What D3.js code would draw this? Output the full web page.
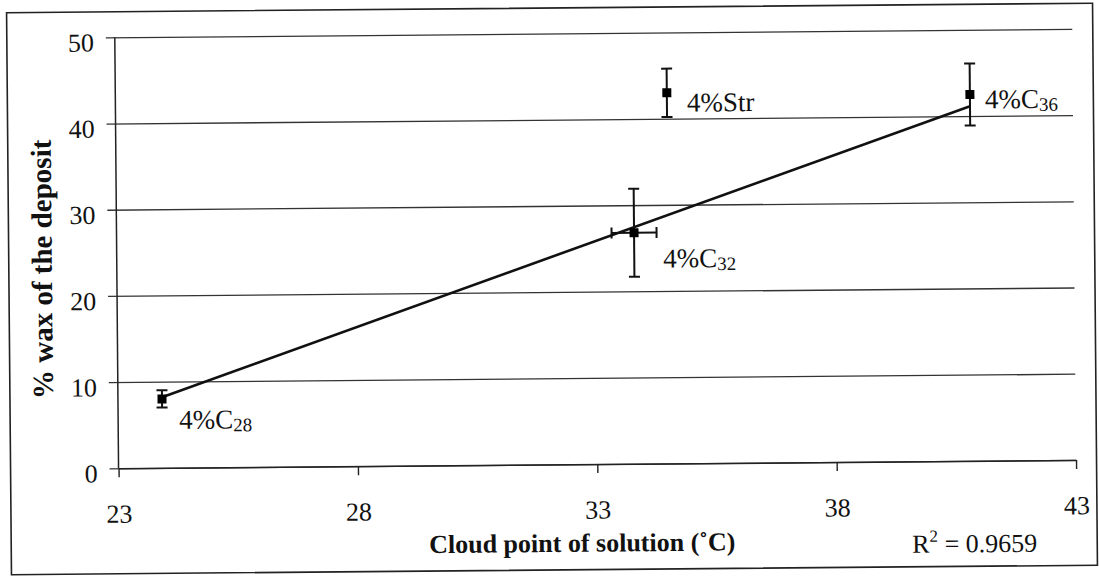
<!DOCTYPE html>
<html>
<head>
<meta charset="utf-8">
<script src="https://cdn.jsdelivr.net/npm/d3@7"></script>
<style>
  body { margin: 0; background: #fff; }
  svg { display: block; }
</style>
</head>
<body>
<div id="chart"></div>
<script>
// Values
const samples = ["C28", "Str", "C32", "C36"];
const labelText = ["4%C", "4%Str", "4%C", "4%C"];
const labelSub = ["28", "", "32", "36"];
const cloudPoint = [23.92, 34.52, 33.81, 40.85];
const cloudError = [0, 0, 0.47, 0];
const waxPercent = [8.0, 43.0, 26.8, 42.5];
const waxError = [1.0, 2.8, 5.1, 3.6];
const inTrend = [true, false, true, true];
const xTicks = [23, 28, 33, 38, 43];
const yTicks = [0, 10, 20, 30, 40, 50];
// linear trendline as drawn in the figure
const trendSlope = 1.946;
const trendIntercept = -38.35;
const rSquared = "0.9659";

const width = 1099, height = 576;
const font = "'Liberation Serif', 'Times New Roman', serif";

// label placement relative to its point (px)
const labelOffset = { C28: [17, 30], Str: [20, 19], C32: [29, 35], C36: [15, 14] };

const svg = d3.select("#chart").append("svg")
  .attr("width", width)
  .attr("height", height)
  .style("font-family", font);

// the scan is tilted by about half a degree
const g = svg.append("g").attr("transform", "rotate(-0.5, 549, 288)");

g.append("rect")
  .attr("x", 9).attr("y", 8)
  .attr("width", 1086).attr("height", 562)
  .attr("fill", "#fff")
  .attr("stroke", "#222")
  .attr("stroke-width", 1.6);

const x = d3.scaleLinear().domain([23, 43]).range([117, 1074.5]);
const y = d3.scaleLinear().domain([0, 50]).range([464.5, 33.5]);
const plotW = x.range()[1] - x.range()[0];

// horizontal gridlines + left tick labels
const yAxis = g.append("g")
  .attr("transform", `translate(${x(23)},0)`)
  .call(d3.axisLeft(y).tickValues(yTicks).tickSize(-plotW).tickSizeOuter(0).tickPadding(21));
yAxis.select(".domain").remove();
yAxis.selectAll(".tick line")
  .attr("x1", -9)
  .attr("stroke", "#333")
  .attr("stroke-width", 1.3);
yAxis.selectAll(".tick text")
  .attr("dy", "0.52em")
  .attr("fill", "#111")
  .style("font-size", "26px")
  .style("font-family", font);

// bottom axis
const xAxis = g.append("g")
  .attr("transform", `translate(0,${y(0)})`)
  .call(d3.axisBottom(x).tickValues(xTicks).tickSize(9).tickSizeOuter(0).tickPadding(27));
xAxis.select(".domain").attr("stroke", "#222").attr("stroke-width", 1.5);
xAxis.selectAll(".tick line").attr("stroke", "#222").attr("stroke-width", 1.4);
xAxis.selectAll(".tick text")
  .attr("fill", "#111")
  .style("font-size", "26px")
  .style("font-family", font);

// vertical axis line
g.append("line")
  .attr("x1", x(23)).attr("x2", x(23))
  .attr("y1", y(0)).attr("y2", y(50))
  .attr("stroke", "#222")
  .attr("stroke-width", 1.5);

// trendline over the x range of the fitted points
const trendX = d3.extent(cloudPoint.filter((d, i) => inTrend[i]));
g.append("path")
  .datum(trendX)
  .attr("fill", "none")
  .attr("stroke", "#111")
  .attr("stroke-width", 2.6)
  .attr("d", d3.line().x((d) => x(d)).y((d) => y(trendSlope * d + trendIntercept)));

// points with error bars
const pts = samples.map((s, i) => ({
  id: s,
  cx: cloudPoint[i], ex: cloudError[i],
  cy: waxPercent[i], ey: waxError[i],
  text: labelText[i], sub: labelSub[i]
}));

const cap = 5.5;
const pt = g.selectAll(".pt")
  .data(pts)
  .join("g")
  .attr("class", "pt")
  .attr("stroke", "#111")
  .attr("stroke-width", 2);

pt.append("line")
  .attr("x1", (d) => x(d.cx)).attr("x2", (d) => x(d.cx))
  .attr("y1", (d) => y(d.cy - d.ey)).attr("y2", (d) => y(d.cy + d.ey));
pt.append("line")
  .attr("x1", (d) => x(d.cx) - cap).attr("x2", (d) => x(d.cx) + cap)
  .attr("y1", (d) => y(d.cy + d.ey)).attr("y2", (d) => y(d.cy + d.ey));
pt.append("line")
  .attr("x1", (d) => x(d.cx) - cap).attr("x2", (d) => x(d.cx) + cap)
  .attr("y1", (d) => y(d.cy - d.ey)).attr("y2", (d) => y(d.cy - d.ey));

// horizontal error bars, only where there is one
const hx = pt.filter((d) => d.ex > 0);
hx.append("line")
  .attr("x1", (d) => x(d.cx - d.ex)).attr("x2", (d) => x(d.cx + d.ex))
  .attr("y1", (d) => y(d.cy)).attr("y2", (d) => y(d.cy));
hx.append("line")
  .attr("x1", (d) => x(d.cx - d.ex)).attr("x2", (d) => x(d.cx - d.ex))
  .attr("y1", (d) => y(d.cy) - cap).attr("y2", (d) => y(d.cy) + cap);
hx.append("line")
  .attr("x1", (d) => x(d.cx + d.ex)).attr("x2", (d) => x(d.cx + d.ex))
  .attr("y1", (d) => y(d.cy) - cap).attr("y2", (d) => y(d.cy) + cap);

pt.append("rect")
  .attr("x", (d) => x(d.cx) - 4.5)
  .attr("y", (d) => y(d.cy) - 4.5)
  .attr("width", 9).attr("height", 9)
  .attr("fill", "#000")
  .attr("stroke", "none");

// point labels
const lab = g.selectAll(".lab")
  .data(pts)
  .join("text")
  .attr("class", "lab")
  .attr("x", (d) => x(d.cx) + labelOffset[d.id][0])
  .attr("y", (d) => y(d.cy) + labelOffset[d.id][1])
  .attr("fill", "#111")
  .style("font-size", "27px");
lab.append("tspan").text((d) => d.text);
lab.filter((d) => d.sub !== "")
  .append("tspan")
  .attr("dy", 3)
  .style("font-size", "19px")
  .text((d) => d.sub);

// axis titles
g.append("text")
  .attr("x", 580)
  .attr("y", 552)
  .attr("text-anchor", "middle")
  .attr("font-weight", "bold")
  .attr("fill", "#111")
  .style("font-size", "26px")
  .text("Cloud point of solution (˚C)");

g.append("text")
  .attr("transform", "translate(52,265) rotate(-90)")
  .attr("text-anchor", "middle")
  .attr("font-weight", "bold")
  .attr("fill", "#111")
  .style("font-size", "29px")
  .text("% wax of the deposit");

// R² of the trendline
const r2 = g.append("text")
  .attr("x", 1035)
  .attr("y", 556)
  .attr("text-anchor", "end")
  .attr("fill", "#111")
  .style("font-size", "26px");
r2.append("tspan").text("R");
r2.append("tspan").attr("dy", -11).style("font-size", "17px").text("2");
r2.append("tspan").attr("dy", 11).text(" = " + rSquared);
</script>
</body>
</html>
